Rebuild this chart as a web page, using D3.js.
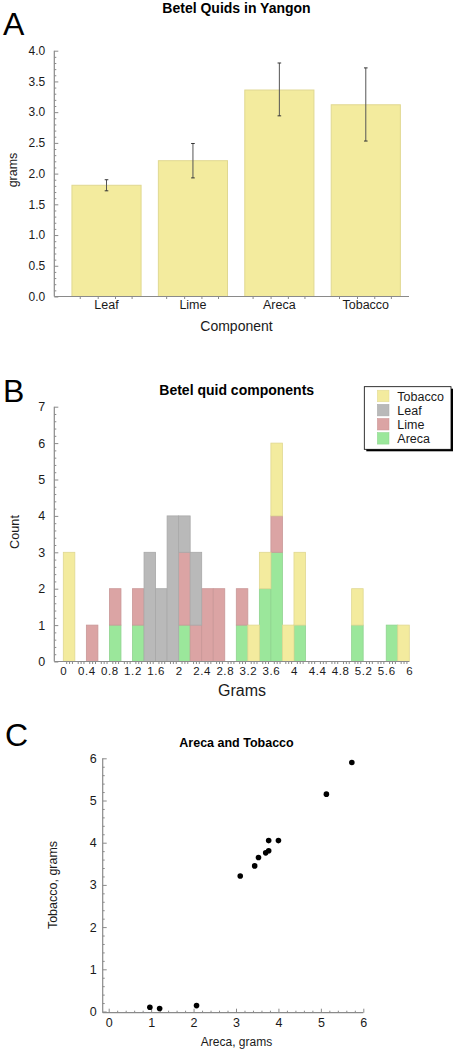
<!DOCTYPE html>
<html><head><meta charset="utf-8">
<script src="https://cdn.jsdelivr.net/npm/d3@7"></script>
<style>
html,body{margin:0;padding:0;background:#fff;}
svg{display:block;font-family:"Liberation Sans",Arial,Helvetica,sans-serif;}
</style></head>
<body>
<svg id="chart" width="454" height="1050"></svg>
<script>
// ---------- Panel A data ----------
const componentsA = ["Leaf", "Lime", "Areca", "Tobacco"];
const meansA = [1.81, 2.21, 3.36, 3.12];
const errLowA = [1.72, 1.93, 2.94, 2.53];
const errHighA = [1.90, 2.49, 3.80, 3.72];
const yTicksA = [0, 0.5, 1, 1.5, 2, 2.5, 3, 3.5, 4];

// ---------- Panel B data (counts per 0.2 g bin, bins start at 0, 0.2, ... 5.8) ----------
const binStarts = d3.range(30).map(i => +(i * 0.2).toFixed(1));
const countsAreca   = [0,0,0,0,1,0,1,0,0,0,1,0,0,0,0,1,0,2,3,0,1,0,0,0,0,1,0,0,1,0];
const countsLime    = [0,0,1,0,1,0,1,0,0,0,2,1,2,2,0,1,0,0,1,0,0,0,0,0,0,0,0,0,0,0];
const countsLeaf    = [0,0,0,0,0,0,0,3,2,4,1,2,0,0,0,0,0,0,0,0,0,0,0,0,0,0,0,0,0,0];
const countsTobacco = [3,0,0,0,0,0,0,0,0,0,0,0,0,0,0,0,1,1,2,1,2,0,0,0,0,1,0,0,0,1];
const seriesB = ["Areca", "Lime", "Leaf", "Tobacco"];          // stacking order, bottom first
const legendB = ["Tobacco", "Leaf", "Lime", "Areca"];
const xTicksB = d3.range(0, 16).map(i => +(i * 0.4).toFixed(1));
const yTicksB = [0,1,2,3,4,5,6,7];

// ---------- Panel C data ----------
const arecaC   = [0.97, 1.20, 2.07, 3.10, 3.44, 3.53, 3.70, 3.77, 3.77, 4.00, 5.13, 5.73];
const tobaccoC = [0.10, 0.07, 0.14, 3.21, 3.45, 3.65, 3.76, 3.81, 4.05, 4.05, 5.15, 5.90];
const ticksC = [0,1,2,3,4,5,6];

// ---------- styles ----------
const colors = {Tobacco:"#f3eb9e", Leaf:"#b9b9b9", Lime:"#dba4a4", Areca:"#9be79b"};
const strokes = {Tobacco:"#e0d891", Leaf:"#a9a9a9", Lime:"#c99797", Areca:"#8fd38f"};
const axisCol = "#8a8a8a";
const textCol = "#1a1a1a";

const svg = d3.select("#chart");

function styleAxis(g, fs) {
  g.selectAll(".domain").remove();
  g.selectAll(".tick line").attr("stroke", axisCol);
  g.selectAll(".tick text").attr("fill", textCol).attr("font-size", fs);
}
function panelLabel(txt, x, y) {
  svg.append("text").attr("x", x).attr("y", y).attr("font-size", 32)
    .attr("fill", "#000").attr("font-family", "'Liberation Sans',Arial,sans-serif").text(txt);
}
function title(txt, x, y, fs) {
  svg.append("text").attr("x", x).attr("y", y).attr("text-anchor", "middle")
    .attr("font-weight", "bold").attr("font-size", fs).attr("fill", "#000").text(txt);
}

// =================== Panel A ===================
(function(){
  const x = d3.scaleBand().domain(componentsA).range([63.3, 409]).paddingInner(0.2).paddingOuter(0.1);
  const y = d3.scaleLinear().domain([0, 4]).range([296.5, 50.7]);
  const g = svg.append("g");

  panelLabel("A", 3, 35);
  title("Betel Quids in Yangon", 236.5, 12.5, 14);

  // bars
  g.selectAll("rect.bar").data(componentsA).join("rect")
    .attr("x", d => x(d)).attr("width", x.bandwidth())
    .attr("y", (d,i) => y(meansA[i])).attr("height", (d,i) => y(0) - y(meansA[i]))
    .attr("fill", colors.Tobacco).attr("stroke", strokes.Tobacco).attr("stroke-width", 1);

  // error bars
  const eb = g.selectAll("g.err").data(componentsA).join("g");
  eb.append("line")
    .attr("x1", d => x(d) + x.bandwidth()/2).attr("x2", d => x(d) + x.bandwidth()/2)
    .attr("y1", (d,i) => y(errLowA[i])).attr("y2", (d,i) => y(errHighA[i]))
    .attr("stroke", "#555").attr("stroke-width", 1);
  [errLowA, errHighA].forEach(arr => {
    eb.append("line")
      .attr("x1", d => x(d) + x.bandwidth()/2 - 1.8).attr("x2", d => x(d) + x.bandwidth()/2 + 1.8)
      .attr("y1", (d,i) => y(arr[i])).attr("y2", (d,i) => y(arr[i]))
      .attr("stroke", "#333").attr("stroke-width", 1);
  });

  // y axis
  const ya = g.append("g").attr("transform", "translate(54.3,0)")
    .call(d3.axisLeft(y).tickValues(yTicksA).tickFormat(d3.format(".1f")).tickSizeInner(-4).tickSizeOuter(0).tickPadding(9));
  styleAxis(ya, 12);
  const yminor = d3.range(0, 4.0001, 0.1).filter(v => Math.abs(v*2 - Math.round(v*2)) > 1e-6);
  const ym = g.append("g").attr("transform", "translate(54.3,0)")
    .call(d3.axisLeft(y).tickValues(yminor).tickFormat("").tickSizeInner(-2).tickSizeOuter(0));
  styleAxis(ym, 12);

  // x axis
  const xa = g.append("g").attr("transform", "translate(0,296.5)")
    .call(d3.axisBottom(x).tickSize(0).tickPadding(4));
  styleAxis(xa, 12.5);
  // small ticks under each band
  const smallT = [];
  componentsA.forEach(c => [0.12, 0.38, 0.63, 0.87].forEach(f => smallT.push(x(c) + f * x.bandwidth())));
  g.selectAll("line.st").data(smallT).join("line")
    .attr("x1", d => d).attr("x2", d => d).attr("y1", 296.5).attr("y2", 299)
    .attr("stroke", axisCol);

  g.append("line").attr("x1", 54.3).attr("x2", 409).attr("y1", 296.5).attr("y2", 296.5)
    .attr("stroke", axisCol).attr("stroke-width", 1.2);
  g.append("line").attr("x1", 54.3).attr("x2", 54.3).attr("y1", 50.7).attr("y2", 296.5)
    .attr("stroke", axisCol).attr("stroke-width", 1.2);

  g.append("text").attr("transform", "translate(17,170) rotate(-90)").attr("text-anchor", "middle")
    .attr("font-size", 12.5).attr("fill", textCol).text("grams");
  g.append("text").attr("x", 236.5).attr("y", 330.7).attr("text-anchor", "middle")
    .attr("font-size", 14).attr("fill", textCol).text("Component");
})();

// =================== Panel B ===================
(function(){
  const x = d3.scaleLinear().domain([0, 6]).range([63.3, 409.3]);
  const y = d3.scaleLinear().domain([0, 7]).range([661.5, 406.7]);
  const g = svg.append("g");

  panelLabel("B", 3, 401.7);
  title("Betel quid components", 236.7, 395, 14);

  const table = binStarts.map((b, i) => ({
    bin: b, Areca: countsAreca[i], Lime: countsLime[i], Leaf: countsLeaf[i], Tobacco: countsTobacco[i]
  }));
  const stacked = d3.stack().keys(seriesB)(table);
  stacked.forEach(layer => {
    g.selectAll(null).data(layer.filter(d => d[1] > d[0])).join("rect")
      .attr("x", d => x(d.data.bin)).attr("width", d => x(d.data.bin + 0.2) - x(d.data.bin))
      .attr("y", d => y(d[1])).attr("height", d => y(d[0]) - y(d[1]))
      .attr("fill", colors[layer.key]).attr("stroke", strokes[layer.key]).attr("stroke-width", 0.8);
  });

  // y axis
  const ya = g.append("g").attr("transform", "translate(54.3,0)")
    .call(d3.axisLeft(y).tickValues(yTicksB).tickFormat(d3.format("d")).tickSizeInner(-4).tickSizeOuter(0).tickPadding(9));
  styleAxis(ya, 12.5);
  const yminor = d3.range(0, 7.0001, 0.2).filter(v => Math.abs(v - Math.round(v)) > 1e-6);
  const ym = g.append("g").attr("transform", "translate(54.3,0)")
    .call(d3.axisLeft(y).tickValues(yminor).tickFormat("").tickSizeInner(-2).tickSizeOuter(0));
  styleAxis(ym, 12);

  // x axis
  const xa = g.append("g").attr("transform", "translate(0,661.5)")
    .call(d3.axisBottom(x).tickValues(xTicksB).tickFormat(d => String(+d.toFixed(1))).tickSize(0).tickPadding(5));
  styleAxis(xa, 11.5);
  xa.selectAll(".tick text").attr("letter-spacing", 0.6);
  const xminor = d3.range(0, 120).map(i => i * 0.05).filter((v, i) => i % 4 !== 0);
  const xm = g.append("g").attr("transform", "translate(0,661.5)")
    .call(d3.axisBottom(x).tickValues(xminor).tickFormat("").tickSizeInner(2.5).tickSizeOuter(0));
  styleAxis(xm, 11);

  g.append("line").attr("x1", 54.3).attr("x2", 409.3).attr("y1", 661.5).attr("y2", 661.5)
    .attr("stroke", axisCol).attr("stroke-width", 1.2);
  g.append("line").attr("x1", 54.3).attr("x2", 54.3).attr("y1", 406.7).attr("y2", 661.5)
    .attr("stroke", axisCol).attr("stroke-width", 1.2);

  g.append("text").attr("transform", "translate(18.5,532) rotate(-90)").attr("text-anchor", "middle")
    .attr("font-size", 12.7).attr("fill", textCol).text("Count");
  g.append("text").attr("x", 242).attr("y", 695.5).attr("text-anchor", "middle")
    .attr("font-size", 16).attr("fill", textCol).text("Grams");

  // legend
  const lg = g.append("g");
  lg.append("rect").attr("x", 366.3).attr("y", 388.7).attr("width", 86.7).attr("height", 62.6).attr("fill", "#000");
  lg.append("rect").attr("x", 364.3).attr("y", 386.7).attr("width", 86.7).attr("height", 62.6)
    .attr("fill", "#fff").attr("stroke", "#000").attr("stroke-width", 0.8);
  const ly = d3.scalePoint().domain(legendB).range([396, 438.3]);
  lg.selectAll("rect.sw").data(legendB).join("rect")
    .attr("x", 377.3).attr("y", d => ly(d) - 5.8).attr("width", 11.7).attr("height", 11.6)
    .attr("fill", d => colors[d]).attr("stroke", d => strokes[d]).attr("stroke-width", 0.5);
  lg.selectAll("text.lt").data(legendB).join("text")
    .attr("x", 397.3).attr("y", d => ly(d) + 4.5).attr("font-size", 12.5).attr("fill", textCol).text(d => d);
})();

// =================== Panel C ===================
(function(){
  const x = d3.scaleLinear().domain([0, 6]).range([108.7, 363.3]);
  const y = d3.scaleLinear().domain([0, 6]).range([1011.5, 758.3]);
  const g = svg.append("g");

  panelLabel("C", 5, 745.5);
  title("Areca and Tobacco", 236.5, 746.5, 12.5);

  const ya = g.append("g").attr("transform", "translate(102.7,0)")
    .call(d3.axisLeft(y).tickValues(ticksC).tickFormat(d3.format("d")).tickSizeInner(-4).tickSizeOuter(0).tickPadding(6));
  styleAxis(ya, 12.5);
  const minor = d3.range(0, 6.0001, 0.2).filter(v => Math.abs(v - Math.round(v)) > 1e-6);
  const ym = g.append("g").attr("transform", "translate(102.7,0)")
    .call(d3.axisLeft(y).tickValues(minor).tickFormat("").tickSizeInner(-2).tickSizeOuter(0));
  styleAxis(ym, 12);

  const xa = g.append("g").attr("transform", "translate(0,1012.7)")
    .call(d3.axisBottom(x).tickValues(ticksC).tickFormat(d3.format("d")).tickSizeInner(-4).tickSizeOuter(0).tickPadding(5));
  styleAxis(xa, 12.5);
  xa.selectAll(".tick text").attr("y", 5.5);
  const xm = g.append("g").attr("transform", "translate(0,1012.7)")
    .call(d3.axisBottom(x).tickValues(minor).tickFormat("").tickSizeInner(-2).tickSizeOuter(0));
  styleAxis(xm, 12);

  g.append("line").attr("x1", 102.7).attr("x2", x(6)).attr("y1", 1012.7).attr("y2", 1012.7)
    .attr("stroke", axisCol).attr("stroke-width", 1.2);
  g.append("line").attr("x1", 102.7).attr("x2", 102.7).attr("y1", y(6)).attr("y2", 1012.7)
    .attr("stroke", axisCol).attr("stroke-width", 1.2);

  g.selectAll("circle").data(arecaC).join("circle")
    .attr("cx", d => x(d)).attr("cy", (d,i) => y(tobaccoC[i])).attr("r", 2.8).attr("fill", "#000");

  g.append("text").attr("transform", "translate(57,885) rotate(-90)").attr("text-anchor", "middle")
    .attr("font-size", 12.5).attr("fill", textCol).text("Tobacco, grams");
  g.append("text").attr("x", 236.5).attr("y", 1046).attr("text-anchor", "middle")
    .attr("font-size", 12).attr("fill", textCol).text("Areca, grams");
})();
</script>
</body></html>
